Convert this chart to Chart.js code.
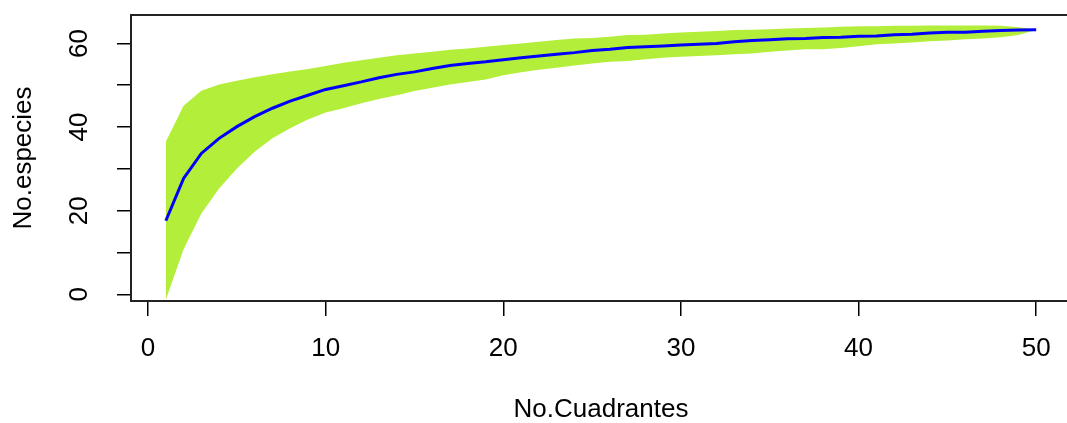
<!DOCTYPE html>
<html>
<head>
<meta charset="utf-8">
<script src="https://cdn.jsdelivr.net/npm/chart.js@4"></script>
<style>
  html, body { margin: 0; padding: 0; background: #fff; overflow: hidden; }
  #wrap { width: 1067px; height: 423px; overflow: hidden; }
  canvas { display: block; }
</style>
</head>
<body>
<div id="wrap"><canvas id="accumChart" width="1080" height="423"></canvas></div>
<script>
// Species accumulation: number of quadrats sampled vs. species found
const quadrats = Array.from({ length: 50 }, (_, i) => i + 1);

const richness = [
  17.6, 27.7, 33.7, 37.3, 40.1, 42.5, 44.5, 46.2, 47.6, 49.0,
  49.9, 50.8, 51.8, 52.6, 53.2, 54.0, 54.7, 55.2, 55.6, 56.1,
  56.6, 57.0, 57.4, 57.8, 58.3, 58.6, 59.0, 59.2, 59.4, 59.6,
  59.8, 60.0, 60.4, 60.7, 60.9, 61.1, 61.2, 61.4, 61.5, 61.7,
  61.8, 62.1, 62.2, 62.5, 62.7, 62.7, 62.9, 63.1, 63.2, 63.3
];

// upper and lower edges of the confidence band
const bandUpper = [
  36.5, 45.1, 48.7, 50.2, 51.1, 51.9, 52.6, 53.3, 53.9, 54.6,
  55.4, 56.0, 56.6, 57.2, 57.6, 58.0, 58.5, 58.8, 59.2, 59.6,
  60.0, 60.4, 60.8, 61.2, 61.3, 61.6, 62.0, 62.1, 62.4, 62.6,
  62.8, 63.0, 63.2, 63.3, 63.4, 63.6, 63.7, 63.8, 64.0, 64.1,
  64.1, 64.2, 64.2, 64.3, 64.3, 64.3, 64.3, 64.2, 63.9, 63.3
];

const bandLower = [
  -1.3, 10.8, 19.3, 25.3, 30.1, 34.1, 37.3, 39.7, 41.8, 43.5,
  44.5, 45.7, 46.7, 47.6, 48.6, 49.4, 50.2, 50.8, 51.4, 52.4,
  53.1, 53.7, 54.2, 54.7, 55.2, 55.6, 55.8, 56.2, 56.6, 56.8,
  57.0, 57.2, 57.4, 57.6, 58.0, 58.3, 58.6, 58.6, 58.9, 59.3,
  59.8, 60.0, 60.2, 60.5, 60.7, 61.0, 61.2, 61.5, 62.0, 63.3
];

const xTicks = [0, 10, 20, 30, 40, 50];
const yTicks = [0, 10, 20, 30, 40, 50, 60];
const yLabelled = [0, 20, 40, 60];

const FONT = "'Liberation Sans', Arial, sans-serif";
const toPoints = ys => quadrats.map((q, i) => ({ x: q, y: ys[i] }));

// plain black frame round the plot region
const boxFrame = {
  id: "boxFrame",
  afterDatasetsDraw(chart) {
    const { ctx, chartArea: a } = chart;
    ctx.save();
    ctx.strokeStyle = "#222";
    ctx.lineWidth = 2;
    ctx.strokeRect(a.left, a.top, a.right - a.left, a.bottom - a.top);
    ctx.restore();
  }
};

const ctx = document.getElementById("accumChart").getContext("2d");
new Chart(ctx, {
  type: "line",
  data: {
    datasets: [
      {
        label: "richness",
        data: toPoints(richness),
        borderColor: "#0000FF",
        borderWidth: 3,
        pointRadius: 0,
        tension: 0,
        fill: false
      },
      {
        label: "upper",
        data: toPoints(bandUpper),
        borderColor: "rgba(0,0,0,0)",
        borderWidth: 0,
        pointRadius: 0,
        tension: 0,
        backgroundColor: "#B3EE3A",
        fill: "+1"
      },
      {
        label: "lower",
        data: toPoints(bandLower),
        borderColor: "rgba(0,0,0,0)",
        borderWidth: 0,
        pointRadius: 0,
        tension: 0,
        fill: false
      }
    ]
  },
  options: {
    responsive: false,
    animation: false,
    events: [],
    layout: { padding: { top: 15, right: 9, left: 0, bottom: 0 } },
    plugins: {
      legend: { display: false },
      tooltip: { enabled: false },
      filler: { drawTime: "beforeDatasetsDraw" }
    },
    scales: {
      x: {
        type: "linear",
        min: -0.96,
        max: 51.96,
        afterFit: s => {
          s.height = 122;
          s.paddingLeft = 0;
          s.paddingRight = 0;
        },
        afterBuildTicks: s => { s.ticks = xTicks.map(v => ({ value: v })); },
        border: { display: false },
        grid: { drawOnChartArea: false, drawTicks: true, tickLength: 15, color: "#000", lineWidth: 1.5 },
        ticks: {
          autoSkip: false,
          maxRotation: 0,
          padding: 17,
          color: "#000",
          font: { family: FONT, size: 26 }
        },
        title: {
          display: true,
          text: "No.Cuadrantes",
          color: "#000",
          font: { family: FONT, size: 26, lineHeight: 1 },
          padding: 0
        }
      },
      y: {
        type: "linear",
        min: -1.6,
        max: 66.8,
        afterFit: s => {
          s.width = 131;
          s.paddingTop = 0;
          s.paddingBottom = 0;
        },
        afterBuildTicks: s => { s.ticks = yTicks.map(v => ({ value: v })); },
        border: { display: false },
        grid: { drawOnChartArea: false, drawTicks: true, tickLength: 14, color: "#000", lineWidth: 1.5 },
        ticks: {
          autoSkip: false,
          minRotation: 90,
          maxRotation: 90,
          crossAlign: "center",
          padding: 23,
          color: "#000",
          font: { family: FONT, size: 26 },
          callback: v => (yLabelled.includes(v) ? String(v) : "")
        },
        title: {
          display: true,
          text: "No.especies",
          color: "#000",
          font: { family: FONT, size: 26 },
          padding: { top: 8, bottom: 0 }
        }
      }
    }
  },
  plugins: [boxFrame]
});
</script>
</body>
</html>
